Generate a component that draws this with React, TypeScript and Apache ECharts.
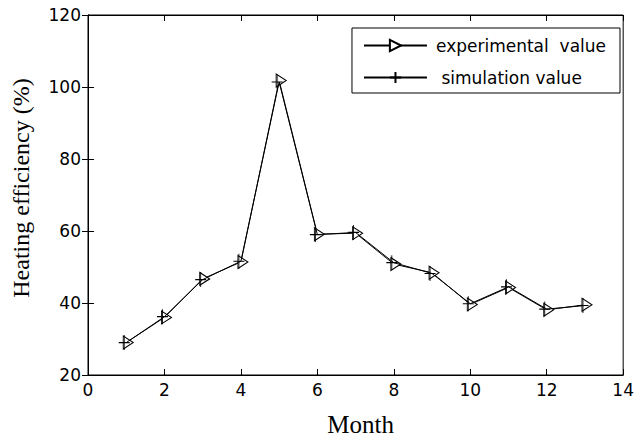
import React, { useEffect, useRef } from "react";
import * as echarts from "echarts";

const months = [1, 2, 3, 4, 5, 6, 7, 8, 9, 10, 11, 12, 13];
const experimental = [29.0, 36.0, 46.7, 51.4, 101.8, 59.1, 59.4, 50.8, 48.4, 39.6, 44.3, 38.1, 39.5];
const simulation = [29.0, 36.2, 46.5, 51.6, 101.4, 59.0, 59.6, 51.2, 48.2, 39.8, 44.5, 38.3, 39.3];
const xTicks = { min: 0, max: 14, interval: 2 };
const yTicks = { min: 20, max: 120, interval: 20 };

const TRI = "path://M0,0 L10,6 L0,12 Z";
const PLUS = "path://M5,0 L5,12 M0,6 L10,6";

export default function App() {
  const ref = useRef<HTMLDivElement>(null);
  useEffect(() => {
    const chart = echarts.init(ref.current!, undefined, { renderer: "svg" });
    const tickFont = { fontFamily: "DejaVu Sans, sans-serif", fontSize: 17, color: "#000" };
    const nameFont = { fontFamily: "Liberation Serif, Times New Roman, serif", fontSize: 24, color: "#000" };
    chart.setOption({
      animation: false,
      backgroundColor: "#fff",
      grid: { left: 88, right: 9, top: 15, bottom: 71, show: true, borderColor: "#000", borderWidth: 1 },
      legend: {
        right: 17,
        top: 28,
        orient: "vertical",
        backgroundColor: "#fff",
        borderColor: "#000",
        borderWidth: 1,
        borderRadius: 0,
        padding: [9, 14, 7, 11],
        itemGap: 15,
        itemWidth: 63,
        itemHeight: 14,
        textStyle: { fontFamily: "DejaVu Sans, sans-serif", fontSize: 17, color: "#000", padding: [0, 0, 0, 4] },
        data: [
          { name: "experimental  value" },
          { name: " simulation value" },
        ],
      },
      xAxis: [
        {
          type: "value",
          min: xTicks.min,
          max: xTicks.max,
          interval: xTicks.interval,
          name: "Month",
          nameLocation: "middle",
          nameGap: 37,
          nameTextStyle: { ...nameFont, fontSize: 25, padding: [0, 0, 0, 10] },
          axisLine: { lineStyle: { color: "#000" } },
          axisTick: { inside: true, length: 6, lineStyle: { color: "#000" } },
          axisLabel: { ...tickFont, margin: 6 },
          splitLine: { show: false },
        },
        {
          type: "value",
          position: "top",
          min: xTicks.min,
          max: xTicks.max,
          interval: xTicks.interval,
          axisLine: { lineStyle: { color: "#000" } },
          axisTick: { inside: true, length: 6, lineStyle: { color: "#000" } },
          axisLabel: { show: false },
          splitLine: { show: false },
        },
      ],
      yAxis: [
        {
          type: "value",
          min: yTicks.min,
          max: yTicks.max,
          interval: yTicks.interval,
          name: "Heating efficiency (%)",
          nameLocation: "middle",
          nameGap: 55,
          nameTextStyle: { ...nameFont, padding: [0, 0, 0, 14] },
          axisLine: { lineStyle: { color: "#000" } },
          axisTick: { inside: true, length: 6, lineStyle: { color: "#000" } },
          axisLabel: { ...tickFont, margin: 7 },
          splitLine: { show: false },
        },
        {
          type: "value",
          position: "right",
          min: yTicks.min,
          max: yTicks.max,
          interval: yTicks.interval,
          axisLine: { lineStyle: { color: "#000" } },
          axisTick: { inside: true, length: 6, lineStyle: { color: "#000" } },
          axisLabel: { show: false },
          splitLine: { show: false },
        },
      ],
      series: [
        {
          name: "experimental  value",
          type: "line",
          data: months.map((m, i) => [m, experimental[i]]),
          symbol: TRI,
          symbolSize: [10, 13],
          symbolOffset: [2, 0],
          lineStyle: { color: "#000", width: 1 },
          itemStyle: { color: "#fff", borderColor: "#000", borderWidth: 1 },
          z: 3,
        },
        {
          name: " simulation value",
          type: "line",
          data: months.map((m, i) => [m, simulation[i]]),
          symbol: PLUS,
          symbolSize: [11, 15],
          symbolOffset: [-2, 0],
          lineStyle: { color: "#000", width: 1 },
          itemStyle: { color: "none", borderColor: "#000", borderWidth: 1 },
          z: 4,
        },
      ],
    });
    return () => chart.dispose();
  }, []);
  return <div ref={ref} style={{ width: 637, height: 446, position: "absolute", left: 0, top: 0 }} />;
}
